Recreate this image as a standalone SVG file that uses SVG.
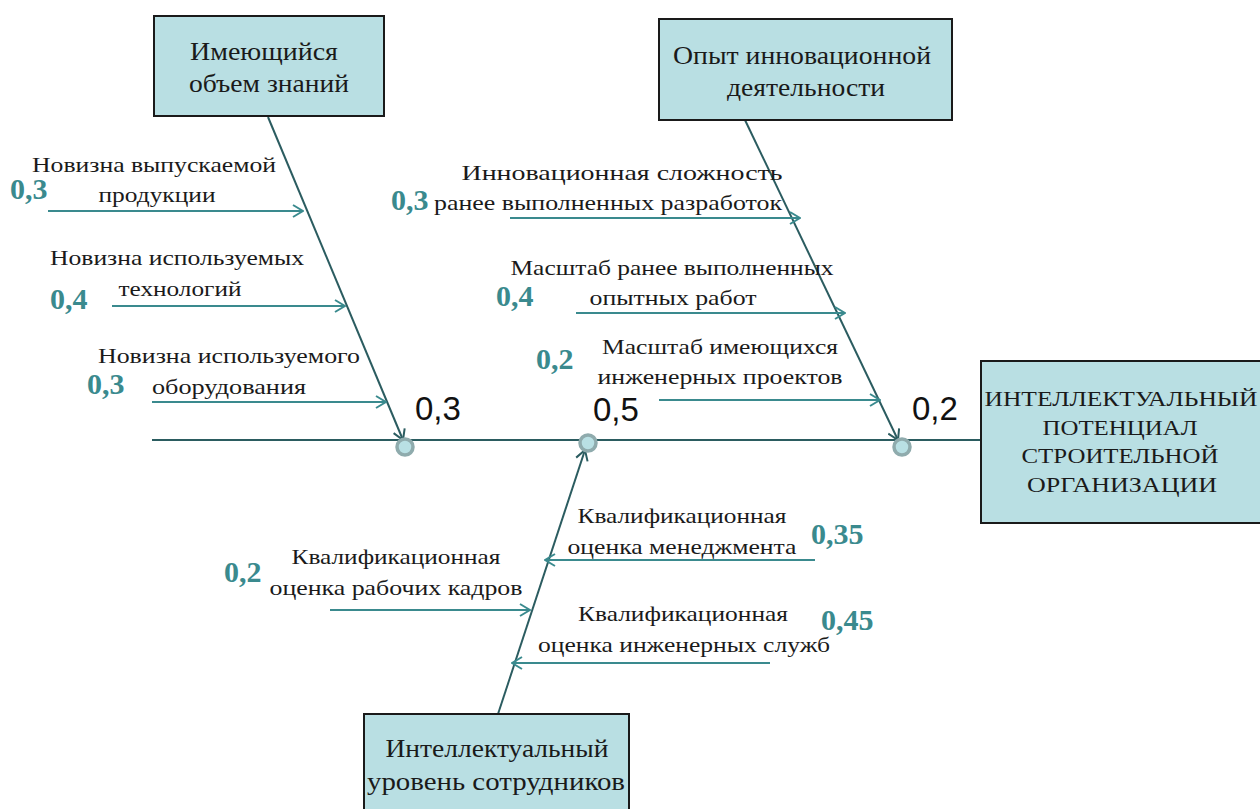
<svg xmlns="http://www.w3.org/2000/svg" width="1260" height="809" viewBox="0 0 1260 809">
<style>
.box{fill:#b9dfe3;stroke:#1a1a1a;stroke-width:2}
.bt{font-family:"Liberation Serif","DejaVu Serif",serif;font-size:25px;fill:#1a1a1a;text-anchor:middle}
.bt2{font-family:"Liberation Serif","DejaVu Serif",serif;font-size:22px;fill:#1a1a1a;text-anchor:middle}
.lb{font-family:"Liberation Serif","DejaVu Serif",serif;font-size:21px;fill:#1a1a1a;text-anchor:middle}
.num{font-family:"Liberation Serif","DejaVu Serif",serif;font-size:30px;font-weight:bold;fill:#3a8a8e}
.sp{font-family:"Liberation Sans",sans-serif;font-size:33px;fill:#111}
.bone{stroke:#2b5c60;stroke-width:2;fill:none;marker-end:url(#ad)}
.sub{stroke:#3a8a8e;stroke-width:2;fill:none;marker-end:url(#at)}
.nd{fill:#b9e0e4;stroke:#8fabad;stroke-width:3.5}
</style>
<defs>
<marker id="at" viewBox="0 0 12 14" refX="11" refY="7" markerWidth="12" markerHeight="14" markerUnits="userSpaceOnUse" orient="auto">
<path d="M1,1 L11,7 L1,13" fill="none" stroke="#3a8a8e" stroke-width="2"/>
</marker>
<marker id="ad" viewBox="0 0 12 14" refX="11" refY="7" markerWidth="12" markerHeight="14" markerUnits="userSpaceOnUse" orient="auto">
<path d="M1,1 L11,7 L1,13" fill="none" stroke="#2b5c60" stroke-width="2"/>
</marker>
</defs>
<rect width="1260" height="809" fill="#fff"/>

<g id="connectors">
<line x1="152" y1="440" x2="980" y2="440" stroke="#2b5c60" stroke-width="2"/>
<line class="bone" x1="268" y1="117" x2="403" y2="440"/>
<line class="bone" x1="745" y1="120" x2="898" y2="440"/>
<line class="bone" x1="498" y1="714" x2="585" y2="450"/>
<line class="sub" x1="48" y1="211" x2="303" y2="211"/>
<line class="sub" x1="112" y1="306" x2="345" y2="306"/>
<line class="sub" x1="152" y1="402" x2="386" y2="402"/>
<line class="sub" x1="510" y1="218" x2="800" y2="218"/>
<line class="sub" x1="576" y1="313" x2="845" y2="313"/>
<line class="sub" x1="659" y1="400" x2="880" y2="400"/>
<line class="sub" x1="815" y1="560" x2="545" y2="560"/>
<line class="sub" x1="330" y1="610" x2="530" y2="610"/>
<line class="sub" x1="770" y1="663" x2="512" y2="663"/>
</g>

<g id="junctions">
<circle class="nd" cx="405" cy="447" r="8"/>
<circle class="nd" cx="588" cy="443" r="8"/>
<circle class="nd" cx="902" cy="447" r="8"/>
<text class="sp" x="415" y="420">0,3</text>
<text class="sp" x="593" y="421">0,5</text>
<text class="sp" x="912" y="420">0,2</text>
</g>

<g id="node-knowledge">
<rect class="box" x="154" y="16" width="230" height="100"/>
<text class="bt" x="264" y="60" textLength="148" lengthAdjust="spacingAndGlyphs">Имеющийся</text>
<text class="bt" x="269" y="92" textLength="160" lengthAdjust="spacingAndGlyphs">объем знаний</text>
</g>
<g id="node-experience">
<rect class="box" x="659" y="19" width="293" height="101"/>
<text class="bt" x="802" y="64" textLength="258" lengthAdjust="spacingAndGlyphs">Опыт инновационной</text>
<text class="bt" x="806" y="96" textLength="158" lengthAdjust="spacingAndGlyphs">деятельности</text>
</g>
<g id="node-result">
<rect class="box" x="981" y="361" width="290" height="162"/>
<text class="bt2" x="1121" y="406" textLength="273" lengthAdjust="spacingAndGlyphs">ИНТЕЛЛЕКТУАЛЬНЫЙ</text>
<text class="bt2" x="1120" y="435" textLength="155" lengthAdjust="spacingAndGlyphs">ПОТЕНЦИАЛ</text>
<text class="bt2" x="1120" y="463" textLength="197" lengthAdjust="spacingAndGlyphs">СТРОИТЕЛЬНОЙ</text>
<text class="bt2" x="1122" y="492" textLength="190" lengthAdjust="spacingAndGlyphs">ОРГАНИЗАЦИИ</text>
</g>
<g id="node-staff">
<rect class="box" x="364" y="714" width="265" height="110"/>
<text class="bt" x="497" y="757" textLength="223" lengthAdjust="spacingAndGlyphs">Интеллектуальный</text>
<text class="bt" x="496" y="790" textLength="258" lengthAdjust="spacingAndGlyphs">уровень сотрудников</text>
</g>

<g id="factor-1">
<text class="lb" x="154" y="172" textLength="244" lengthAdjust="spacingAndGlyphs">Новизна выпускаемой</text>
<text class="lb" x="157" y="202" textLength="117" lengthAdjust="spacingAndGlyphs">продукции</text>
<text class="num" x="10" y="199">0,3</text>
</g>
<g id="factor-2">
<text class="lb" x="177" y="265" textLength="254" lengthAdjust="spacingAndGlyphs">Новизна используемых</text>
<text class="lb" x="180" y="296" textLength="123" lengthAdjust="spacingAndGlyphs">технологий</text>
<text class="num" x="50" y="309">0,4</text>
</g>
<g id="factor-3">
<text class="lb" x="229" y="363" textLength="262" lengthAdjust="spacingAndGlyphs">Новизна используемого</text>
<text class="lb" x="229" y="394" textLength="154" lengthAdjust="spacingAndGlyphs">оборудования</text>
<text class="num" x="87" y="394">0,3</text>
</g>
<g id="factor-4">
<text class="lb" x="622" y="180" textLength="321" lengthAdjust="spacingAndGlyphs">Инновационная сложность</text>
<text class="lb" x="608" y="210" textLength="348" lengthAdjust="spacingAndGlyphs">ранее выполненных разработок</text>
<text class="num" x="391" y="210">0,3</text>
</g>
<g id="factor-5">
<text class="lb" x="672" y="275" textLength="323" lengthAdjust="spacingAndGlyphs">Масштаб ранее выполненных</text>
<text class="lb" x="673" y="305" textLength="167" lengthAdjust="spacingAndGlyphs">опытных работ</text>
<text class="num" x="496" y="306">0,4</text>
</g>
<g id="factor-6">
<text class="lb" x="720" y="354" textLength="236" lengthAdjust="spacingAndGlyphs">Масштаб имеющихся</text>
<text class="lb" x="720" y="384" textLength="245" lengthAdjust="spacingAndGlyphs">инженерных проектов</text>
<text class="num" x="536" y="369">0,2</text>
</g>
<g id="factor-7">
<text class="lb" x="682" y="523" textLength="209" lengthAdjust="spacingAndGlyphs">Квалификационная</text>
<text class="lb" x="682" y="554" textLength="229" lengthAdjust="spacingAndGlyphs">оценка менеджмента</text>
<text class="num" x="811" y="544">0,35</text>
</g>
<g id="factor-8">
<text class="lb" x="396" y="564" textLength="209" lengthAdjust="spacingAndGlyphs">Квалификационная</text>
<text class="lb" x="396" y="595" textLength="253" lengthAdjust="spacingAndGlyphs">оценка рабочих кадров</text>
<text class="num" x="224" y="582">0,2</text>
</g>
<g id="factor-9">
<text class="lb" x="683" y="621" textLength="210" lengthAdjust="spacingAndGlyphs">Квалификационная</text>
<text class="lb" x="684" y="652" textLength="292" lengthAdjust="spacingAndGlyphs">оценка инженерных служб</text>
<text class="num" x="821" y="630">0,45</text>
</g>
</svg>
